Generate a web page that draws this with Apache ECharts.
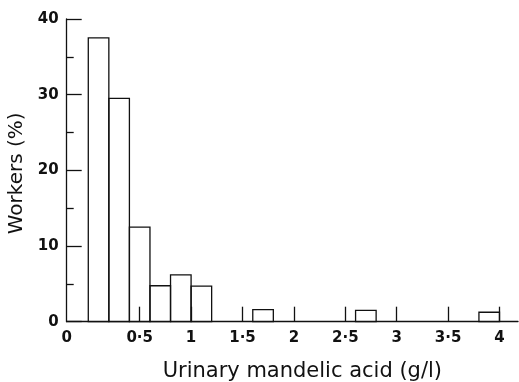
<!DOCTYPE html>
<html>
<head>
<meta charset="utf-8">
<script src="https://cdn.jsdelivr.net/npm/echarts@6/dist/echarts.min.js"></script>
<style>
html,body{margin:0;padding:0;background:#fff;}
#c{width:519px;height:382px;}
</style>
</head>
<body>
<div id="c"></div>
<script>
// Histogram bins (g/l) and percentage of workers
const binStarts = [0, 0.2, 0.4, 0.6, 0.8, 1.0, 1.6, 2.6, 3.8];
const binEnds   = [0.2, 0.4, 0.6, 0.8, 1.0, 1.2, 1.8, 2.8, 4.0];
const workersPct = [37.5, 29.5, 12.5, 4.75, 6.2, 4.7, 1.6, 1.5, 1.25];

// Tick labels
const xTickValues = [0.5, 1, 1.5, 2, 2.5, 3, 3.5, 4];
const xTickLabels = ['0·5', '1', '1·5', '2', '2·5', '3', '3·5', '4'];
const xOriginLabel = '0';
const yTickLabels = ['0', '10', '20', '30', '40'];

const X_MIN = -0.21, X_MAX = 4.18;
const ink = '#111';
const font = 'DejaVu Sans';

const data = binStarts.map((s, i) => [s, binEnds[i], workersPct[i]]);

const chart = echarts.init(document.getElementById('c'), null, {renderer: 'canvas'});
chart.setOption({
  backgroundColor: '#fff',
  animation: false,
  grid: {left: 66.7, right: 1, top: 19, bottom: 60.3, containLabel: false, outerBoundsMode: 'none'},
  xAxis: {
    type: 'value',
    min: X_MIN, max: X_MAX,
    name: 'Urinary mandelic acid (g/l)',
    nameLocation: 'middle',
    nameGap: 39,
    nameTextStyle: {fontFamily: font, fontSize: 21, color: ink, padding: [0, 0, 0, 20]},
    axisLine: {show: true, onZero: false, lineStyle: {color: ink, width: 1.3}},
    axisTick: {show: true, inside: true, length: 15, customValues: xTickValues, lineStyle: {color: ink, width: 1.3}},
    axisLabel: {
      show: true, margin: 9,
      customValues: [X_MIN].concat(xTickValues),
      formatter: v => {
        if (v < 0) return xOriginLabel;
        const i = xTickValues.findIndex(t => Math.abs(t - v) < 1e-6);
        return i >= 0 ? xTickLabels[i] : '';
      },
      fontFamily: font, fontSize: 15, fontWeight: 'bold', color: ink
    },
    splitLine: {show: false}
  },
  yAxis: {
    type: 'value',
    min: 0, max: 40, interval: 10,
    name: 'Workers (%)',
    nameLocation: 'middle',
    nameGap: 34,
    nameTextStyle: {fontFamily: font, fontSize: 20, color: ink, padding: [0, 6, 0, 0]},
    axisLine: {show: true, onZero: false, lineStyle: {color: ink, width: 1.3}},
    axisTick: {show: true, inside: true, length: 15, lineStyle: {color: ink, width: 1.3}},
    minorTick: {show: true, splitNumber: 2, length: 7, lineStyle: {color: ink, width: 1.3}},
    axisLabel: {
      show: true, margin: 8,
      formatter: v => yTickLabels[Math.round(v / 10)] || '',
      fontFamily: font, fontSize: 15, fontWeight: 'bold', color: ink
    },
    splitLine: {show: false},
    minorSplitLine: {show: false}
  },
  series: [{
    type: 'custom',
    data: data,
    encode: {x: [0, 1], y: 2},
    renderItem: function (params, api) {
      const p0 = api.coord([api.value(0), api.value(2)]);
      const p1 = api.coord([api.value(1), 0]);
      return {
        type: 'rect',
        shape: {x: p0[0], y: p0[1], width: p1[0] - p0[0], height: p1[1] - p0[1]},
        style: {fill: 'none', stroke: ink, lineWidth: 1.3}
      };
    }
  }]
});
</script>
</body>
</html>
